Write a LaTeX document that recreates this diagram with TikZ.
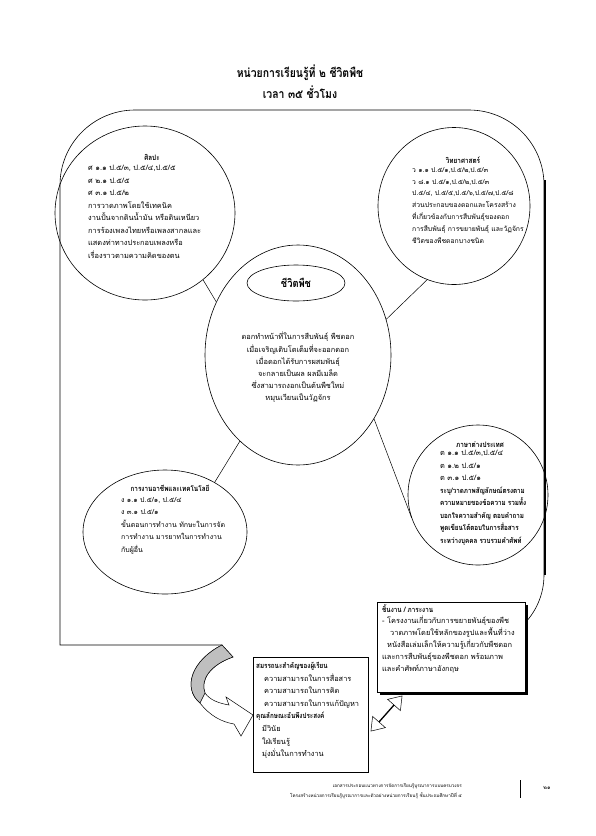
\documentclass[tikz,border=0pt]{standalone}
\usepackage{fontspec}
\newfontfamily\thai[Script=Thai,BoldFeatures={FakeStretch=0.85}]{Loma}
\usetikzlibrary{shapes.geometric,shapes.arrows,calc}
\begin{document}
\begin{tikzpicture}[x=1pt,y=-1pt,
  circ/.style={ellipse, inner sep=0},
  ring/.style={draw=black, line width=0.6pt},
  body/.style={font=\thai\fontsize{7.4}{12.5}\selectfont, inner sep=0, align=left, anchor=north west},
  bodyc/.style={font=\thai\fontsize{7.4}{12.2}\selectfont, inner sep=0, align=center, anchor=north},
  head/.style={font=\thai\bfseries\fontsize{7.5}{12}\selectfont, inner sep=0},
  title/.style={font=\thai\bfseries\fontsize{12.3}{18}\selectfont, inner sep=0},
  link/.style={line width=0.5pt},
  boxst/.style={draw, line width=0.5pt, fill=white, inner sep=0, anchor=north west},
  foot/.style={font=\thai\fontsize{4.6}{9}\selectfont, inner sep=0, anchor=east}
]
\useasboundingbox (0,0) rectangle (595,836);

% outer frame
\draw[line width=0.6pt] (222,645) -- (60,645) -- (60,185) arc(180:270:75) -- (469,110) arc(270:360:75) -- (544,575) arc(0:48:70);
\draw[line width=1.4pt] (545,180) -- (545,575);

% circles (nodes for anchors, rings drawn as paths)
\node[circ, minimum width=180pt, minimum height=174pt] (art) at (145,213) {};
\node[circ, minimum width=152pt, minimum height=157pt] (sci) at (454,206) {};
\node[circ, minimum width=186pt, minimum height=220pt] (ctr) at (298,355) {};
\node[circ, minimum width=140pt, minimum height=140pt] (lang) at (478,495) {};
\node[circ, minimum width=164pt, minimum height=124pt] (tech) at (165,532) {};
\draw[ring, line join=round] plot[domain=0:360, samples=145] ({145+90*cos(\x)}, {213+87*sin(\x)}) -- cycle;
\draw[ring, line join=round] plot[domain=0:360, samples=145] ({454+76*cos(\x)}, {206+78.5*sin(\x)}) -- cycle;
\draw[ring] (ctr.center) ellipse [x radius=93, y radius=110];
\draw[ring] (lang.center) ellipse [x radius=70, y radius=70];
\draw[ring] (tech.center) ellipse [x radius=82, y radius=62];
\node[circ, draw, line width=0.6pt, minimum width=98pt, minimum height=36pt, font=\thai\bfseries\fontsize{11}{12}\selectfont] (core) at (296,283) {ชีวิตพืช};

% connectors
\draw[link] (art.-49) -- (ctr.147);
\draw[link] (sci.-110) -- (ctr.22);
\draw[link] (ctr.-40) -- (lang.-161);
\draw[link] (ctr.-124) -- (tech.45);

% title
\node[title] (t1) at (300,73) {หน่วยการเรียนรู้ที่ ๒ ชีวิตพืช};
\node[title] (t2) at (300,92) {เวลา ๓๕ ชั่วโมง};

% art
\node[head] (arth) at (152,157) {ศิลปะ};
\node[body] (artt) at (88,165) {ศ ๑.๑ ป.๕/๓, ป.๕/๔,ป.๕/๕\\ศ ๒.๑ ป.๕/๕\\ศ ๓.๑ ป.๕/๒\\การวาดภาพโดยใช้เทคนิค\\งานปั้นจากดินน้ำมัน หรือดินเหนียว\\การร้องเพลงไทยหรือเพลงสากลและ\\แสดงท่าทางประกอบเพลงหรือ\\เรื่องราวตามความคิดของตน};

% science
\node[head] (scih) at (463,160) {วิทยาศาสตร์};
\node[body, font=\thai\fontsize{6.8}{11.9}\selectfont] (scit) at (412,167) {ว ๑.๑ ป.๕/๑,ป.๕/๒,ป.๕/๓\\ว ๘.๑ ป.๕/๑,ป.๕/๒,ป.๕/๓\\ป.๕/๔, ป.๕/๕,ป.๕/๖,ป.๕/๗,ป.๕/๘\\ส่วนประกอบของดอกและโครงสร้าง\\ที่เกี่ยวข้องกับการสืบพันธุ์ของดอก\\การสืบพันธุ์ การขยายพันธุ์ และวัฏจักร\\ชีวิตของพืชดอกบางชนิด};

% center
\node[bodyc] (ctrt) at (298,332) {ดอกทำหน้าที่ในการสืบพันธุ์ พืชดอก\\เมื่อเจริญเติบโตเต็มที่จะออกดอก\\เมื่อดอกได้รับการผสมพันธุ์\\จะกลายเป็นผล ผลมีเมล็ด\\ซึ่งสามารถงอกเป็นต้นพืชใหม่\\หมุนเวียนเป็นวัฏจักร};

% language
\node[head] (langh) at (480,445) {ภาษาต่างประเทศ};
\node[body] (langt) at (440,450) {ต ๑.๑ ป.๕/๓,ป.๕/๔\\ต ๑.๒ ป.๕/๑\\ต ๓.๑ ป.๕/๑\\\textbf{ระบุ/วาดภาพสัญลักษณ์ตรงตาม}\\\textbf{ความหมายของข้อความ รวมทั้ง}\\\textbf{บอกใจความสำคัญ ตอบคำถาม}\\\textbf{พูดเขียนโต้ตอบในการสื่อสาร}\\\textbf{ระหว่างบุคคล รวบรวมคำศัพท์}};

% technology
\node[head] (techh) at (170,488) {การงานอาชีพและเทคโนโลยี};
\node[body, font=\thai\fontsize{7}{12.5}\selectfont] (techt) at (121,497) {ง ๑.๑ ป.๕/๑, ป.๕/๔\\ง ๓.๑ ป.๕/๑\\ขั้นตอนการทำงาน ทักษะในการจัด\\การทำงาน มารยาทในการทำงาน\\กับผู้อื่น};

% curved arrow
\coordinate (ca1) at (222,645);
\coordinate (ca2) at (233,657);
\filldraw[fill=white, line width=0.5pt] (ca1) .. controls (192,660) and (182,688) .. (200,703)
  .. controls (210,716) and (222,722) .. (234,724) -- (241,736) -- (253,715) -- (226,697) -- (229,705)
  .. controls (218,703) and (210,700) .. (205,693)
  .. controls (200,680) and (210,665) .. (ca2) -- cycle;
\filldraw[fill=black!25, line width=0.5pt] (ca1) .. controls (192,660) and (182,688) .. (200,703)
  .. controls (202,699) .. (205,693)
  .. controls (200,680) and (210,665) .. (ca2) -- cycle;

% work box
\fill (379.5,604.5) rectangle (527.5,694.5);
\node[boxst, minimum width=148pt, minimum height=90pt] (work) at (377,602) {};
\node[body, font=\thai\fontsize{7.4}{11.8}\selectfont] (workt) at (382,604) {\textbf{ชิ้นงาน / ภาระงาน}\\- โครงงานเกี่ยวกับการขยายพันธุ์ของพืช\\\hspace*{8pt}วาดภาพโดยใช้หลักของรูปและพื้นที่ว่าง\\\hspace*{5pt}หนังสือเล่มเล็กให้ความรู้เกี่ยวกับพืชดอก\\และการสืบพันธุ์ของพืชดอก พร้อมภาพ\\และคำศัพท์ภาษาอังกฤษ};

% competency box
\node[boxst, minimum width=115pt, minimum height=115pt] (comp) at (253,657) {};
\node[body, font=\thai\fontsize{7.4}{12.6}\selectfont] (compt) at (256,662) {\textbf{สมรรถนะสำคัญของผู้เรียน}\\\hspace*{8pt}ความสามารถในการสื่อสาร\\\hspace*{8pt}ความสามารถในการคิด\\\hspace*{8pt}ความสามารถในการแก้ปัญหา\\\textbf{คุณลักษณะอันพึงประสงค์}\\\hspace*{6pt}มีวินัย\\\hspace*{6pt}ใฝ่เรียนรู้\\\hspace*{6pt}มุ่งมั่นในการทำงาน};

% double arrow
\node[double arrow, draw, fill=white, line width=0.5pt, rotate=48.5, minimum height=47pt, minimum width=17pt, double arrow head extend=5pt, double arrow tip angle=70, inner sep=0] (dbl) at (386.5,713.5) {};

% footer
\node[foot] (f1) at (462,786) {เอกสารประกอบแนวทางการจัดการเรียนรู้บูรณาการแบบครบวงจร};
\node[foot] (f2) at (462,796) {โครงสร้างหน่วยการเรียนรู้บูรณาการและตัวอย่างหน่วยการเรียนรู้ ชั้นประถมศึกษาปีที่ ๕};
\draw[line width=0.8pt] (520,780) -- (520,798);
\node[font=\thai\fontsize{5.5}{8}\selectfont, inner sep=0] (pg) at (547,788) {๒๑};
\end{tikzpicture}
\end{document}
